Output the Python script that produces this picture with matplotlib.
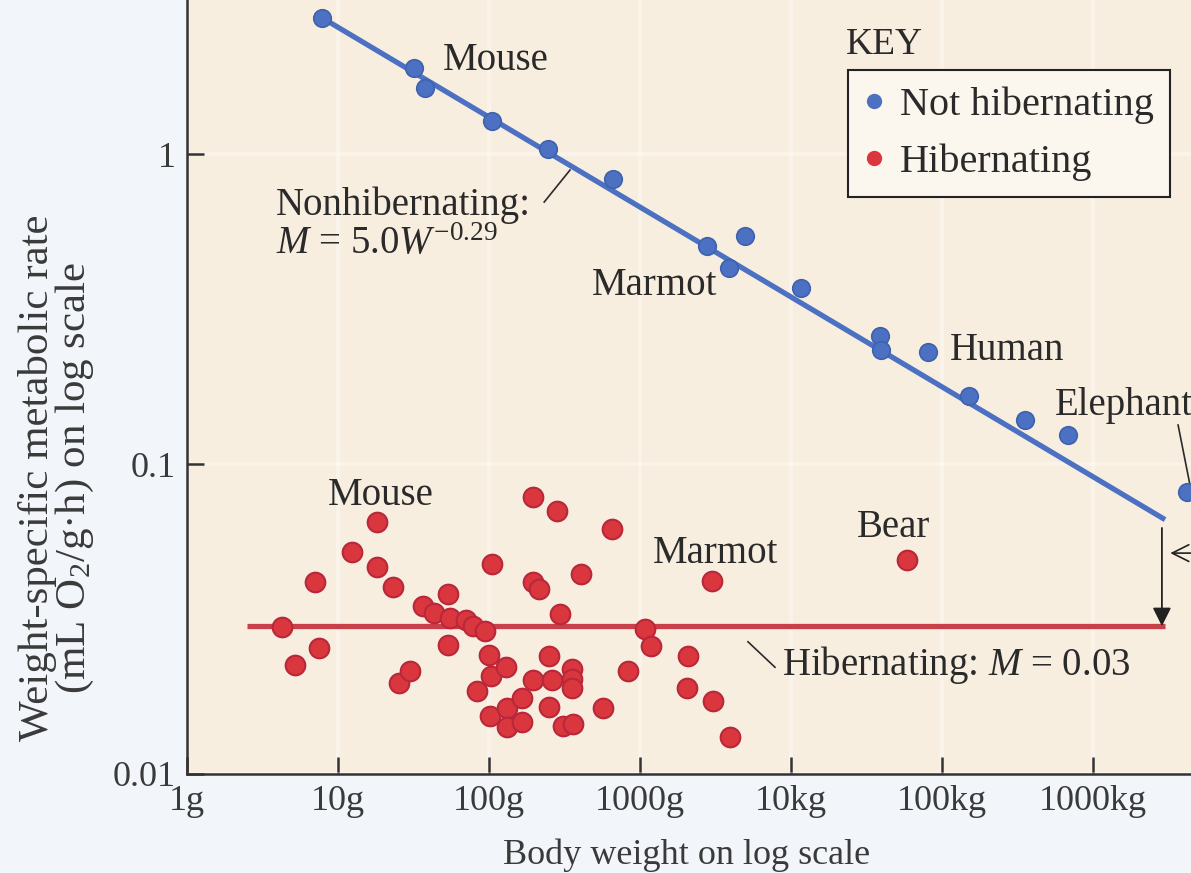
import matplotlib
matplotlib.use("Agg")
import matplotlib.pyplot as plt
from matplotlib.lines import Line2D
import numpy as np

plt.rcParams['font.family'] = ['Liberation Serif', 'DejaVu Serif']
plt.rcParams['mathtext.fontset'] = 'custom'
plt.rcParams['mathtext.rm'] = 'Liberation Serif'
plt.rcParams['mathtext.it'] = 'Liberation Serif:italic'

# body weight (g) and weight-specific metabolic rate (mL O2/g.h)
awake_weight = [7.8, 31.9, 37.7, 104, 246, 665, 2760, 3870, 4960, 11600,
                38900, 39400, 80700, 151000, 355000, 678000, 4200000]
awake_rate = [2.74, 1.89, 1.63, 1.28, 1.04, 0.831, 0.505, 0.43, 0.544, 0.370,
              0.259, 0.234, 0.229, 0.166, 0.139, 0.124, 0.081]

hib_weight = [4.26, 5.19, 7.04, 7.48, 12.4, 18.1, 18.1, 23.1, 25.4, 30.0,
              36.5, 43.2, 53.5, 53.5, 55.2, 70.4, 78.4, 94.1, 83.3, 100,
              103, 102, 105, 130, 132, 132, 165, 165, 196, 196,
              214, 196, 250, 250, 261, 282, 295, 309, 355, 355,
              355, 360, 407, 569, 653, 1079, 1183, 833, 2080, 2047,
              3000, 3043, 3945, 58650]
hib_rate = [0.0297, 0.0224, 0.0415, 0.0255, 0.0519, 0.0648, 0.0464, 0.0400, 0.0196, 0.0215,
            0.0348, 0.0330, 0.0380, 0.0260, 0.0318, 0.0313, 0.0300, 0.0289, 0.0185, 0.0242,
            0.0207, 0.0154, 0.0475, 0.0221, 0.0163, 0.0142, 0.0176, 0.0147, 0.0780, 0.0415,
            0.0394, 0.0201, 0.0240, 0.0164, 0.0201, 0.0703, 0.0328, 0.0143, 0.0218, 0.0202,
            0.0189, 0.0145, 0.0441, 0.0163, 0.0615, 0.0293, 0.0258, 0.0215, 0.0240, 0.0189,
            0.0418, 0.0172, 0.0132, 0.0492]

# fitted relations
fit_coef = 5.0
fit_exp = -0.29
hib_level = 0.03
fit_range = [7.8, 3.0e6]
hib_range = [2.5, 3.0e6]

xticks = [1, 10, 100, 1000, 1e4, 1e5, 1e6]
xticklabels = ['1g', '10g', '100g', '1000g', '10kg', '100kg', '1000kg']
yticks = [0.01, 0.1, 1]
yticklabels = ['0.01', '0.1', '1']

BLUE = '#4c71c2'
RED = '#d9363e'
PANEL = '#f8eee0'
OUTER = '#f2f6fa'

fig = plt.figure(figsize=(11.91, 8.73), dpi=100, facecolor=OUTER)
ax = fig.add_axes([187 / 1191, 99 / 873, 1 - 187 / 1191, 774 / 873])
ax.set_facecolor(PANEL)
ax.set_xscale('log')
ax.set_yscale('log')
ax.set_xlim(1, 10 ** 6.649)
ax.set_ylim(0.01, 10 ** 0.497)

ax.grid(True, which='major', color='white', lw=3, alpha=0.3)
ax.set_axisbelow(True)

# regression lines
wline = np.array(fit_range)
ax.plot(wline, fit_coef * wline ** fit_exp, color=BLUE, lw=3.8, zorder=2,
        solid_capstyle='butt')
ax.plot(hib_range, [hib_level, hib_level], color='#c9404a', lw=3.8, zorder=2,
        solid_capstyle='butt')

ax.scatter(awake_weight, awake_rate, s=160, color=BLUE, edgecolor='#3f62ad',
           linewidth=1.2, zorder=3, clip_on=False)
ax.scatter(hib_weight, hib_rate, s=200, color=RED, edgecolor='#b8283a',
           linewidth=1.5, zorder=3)

# arrow from the fitted line down to the hibernating level
xa = 2.86e6
ax.annotate('', xy=(xa, hib_level), xytext=(xa, fit_coef * 3.0e6 ** fit_exp * 0.94),
            arrowprops=dict(arrowstyle='-|>', color='#222222', lw=1.3,
                            mutation_scale=28, shrinkA=0, shrinkB=0))
ax.annotate('', xy=(3.25e6, 0.0516), xytext=(9e6, 0.0516), annotation_clip=False,
            arrowprops=dict(arrowstyle='->', color='#222222', lw=1.2,
                            mutation_scale=30, shrinkA=0, shrinkB=0))

tc = '#2a2a2a'
fs = 28
ax.text(49.6, 2.01, 'Mouse', fontsize=fs, color=tc, va='center')
ax.text(1257, 0.378, 'Marmot', fontsize=fs, color=tc, va='center', ha='center')
ax.text(1.13e5, 0.233, 'Human', fontsize=fs, color=tc, va='center')
ax.text(5.6e5, 0.155, 'Elephant', fontsize=fs, color=tc, va='center')
ax.plot([3.66e6, 4.39e6], [0.1336, 0.0855], color=tc, lw=1.2)

ax.text(3.88, 0.685, 'Nonhibernating:', fontsize=fs, color=tc, va='center')
ax.text(3.88, 0.509, r'$M$ = 5.0$W^{-0.29}$', fontsize=fs, color=tc, va='center')
ax.plot([232, 344], [0.700, 0.888], color=tc, lw=1.2)

ax.text(8.59, 0.0794, 'Mouse', fontsize=fs, color=tc, va='center')
ax.text(1219, 0.0516, 'Marmot', fontsize=fs, color=tc, va='center')
ax.text(2.74e4, 0.0626, 'Bear', fontsize=fs, color=tc, va='center')
ax.text(8718, 0.0225, r'Hibernating: $M$ = 0.03', fontsize=fs, color=tc, va='center')
ax.plot([5190, 7834], [0.0267, 0.0221], color=tc, lw=1.2)

# axes styling
for side in ['top', 'right']:
    ax.spines[side].set_visible(False)
for side in ['left', 'bottom']:
    ax.spines[side].set_color('#333333')
    ax.spines[side].set_linewidth(1.8)
ax.set_xticks(xticks)
ax.set_xticklabels(xticklabels)
ax.set_yticks(yticks)
ax.set_yticklabels(yticklabels)
ax.minorticks_off()
ax.tick_params(direction='in', length=12, width=1.8, color='#333333',
               labelsize=26, labelcolor='#3a3a3a', pad=8)

fig.text(687 / 1191, 1 - 855 / 873, 'Body weight on log scale', fontsize=26,
         color='#3a3a3a', ha='center', va='center')
fig.text(57 / 1191, 1 - 478 / 873,
         'Weight-specific metabolic rate\n(mL O$_2$/g\u00b7h) on log scale',
         fontsize=31, color='#3a3a3a', ha='center', va='center', rotation=90,
         multialignment='center', linespacing=0.9)

# key
fig.text(846 / 1191, 1 - 45 / 873, 'KEY', fontsize=fs - 1, color=tc, va='center')
handles = [Line2D([], [], ls='', marker='o', ms=10, color=BLUE, label='Not hibernating'),
           Line2D([], [], ls='', marker='o', ms=10, color=RED, label='Hibernating')]
leg = fig.legend(handles=handles, loc='upper left', bbox_to_anchor=(848 / 1191, 1 - 70 / 873),
                 fontsize=29, frameon=True, fancybox=False, edgecolor='#222222',
                 facecolor='#fbf6ee', framealpha=1, handlelength=0.5,
                 handletextpad=0.4, borderpad=0.4, labelspacing=0.5,
                 borderaxespad=0)
leg.get_frame().set_linewidth(1.5)
for t in leg.get_texts():
    t.set_color(tc)

fig.savefig('out.png', dpi=100, facecolor=OUTER)
